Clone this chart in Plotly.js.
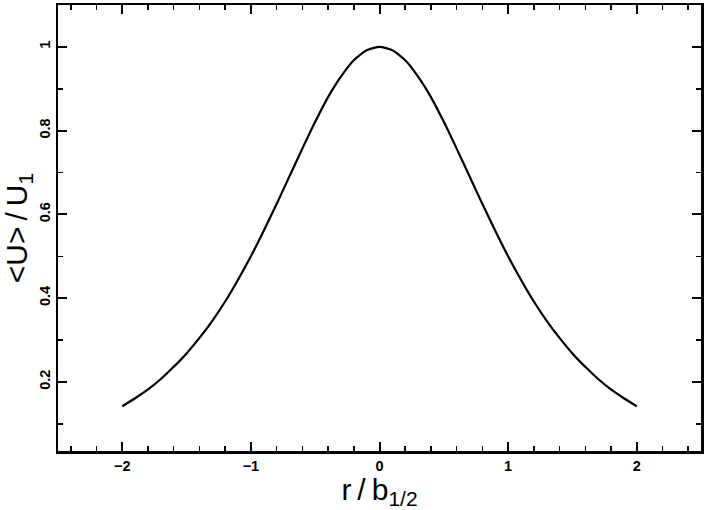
<!DOCTYPE html>
<html>
<head>
<meta charset="utf-8">
<script src="https://cdn.plot.ly/plotly-3.0.1.min.js"></script>
<style>
  html, body { margin: 0; padding: 0; background: #fff; }
  #chartDiv { width: 704px; height: 510px; }
</style>
</head>
<body>
<div id="chartDiv"></div>
<script>
// radial position r/b_1/2 and mean velocity <U>/U1
var rValues = [-2.0, -1.9, -1.8, -1.7, -1.6, -1.5, -1.4, -1.3, -1.2, -1.1,
	-1.0, -0.9, -0.8, -0.7, -0.6, -0.5, -0.4, -0.3, -0.2, -0.1,
	0.0, 0.1, 0.2, 0.3, 0.4, 0.5, 0.6, 0.7, 0.8, 0.9,
	1.0, 1.1, 1.2, 1.3, 1.4, 1.5, 1.6, 1.7, 1.8, 1.9, 2.0];
var uValues = [0.142, 0.161, 0.182, 0.207, 0.236, 0.268, 0.305, 0.346, 0.392, 0.444,
	0.500, 0.561, 0.625, 0.691, 0.757, 0.821, 0.880, 0.929, 0.968, 0.992,
	1.000, 0.992, 0.968, 0.929, 0.880, 0.821, 0.757, 0.691, 0.625, 0.561,
	0.500, 0.444, 0.392, 0.346, 0.305, 0.268, 0.236, 0.207, 0.182, 0.161, 0.142];
var xTicks = [-2, -1, 0, 1, 2];
var xTickLabels = ["\u22122", "\u22121", "0", "1", "2"];
var yTicks = [0.2, 0.4, 0.6, 0.8, 1];
var yTickLabels = ["0.2", "0.4", "0.6", "0.8", "1"];

var tickFont = {family: "Liberation Sans, Arial, sans-serif", size: 14.5, color: "#000", weight: "bold"};
var titleFont = {family: "Liberation Sans, Arial, sans-serif", size: 30, color: "#000"};

var profile = {
	x: rValues,
	y: uValues,
	type: "scatter",
	mode: "lines",
	line: {color: "#000", width: 2.2, shape: "spline", smoothing: 0.6},
	hoverinfo: "skip"
};

var layout = {
	width: 704,
	height: 510,
	paper_bgcolor: "#fff",
	plot_bgcolor: "#fff",
	showlegend: false,
	margin: {l: 58, r: 3, t: 5, b: 59},
	xaxis: {
		range: [-2.5, 2.5],
		showgrid: false,
		zeroline: false,
		showline: true,
		linecolor: "#000",
		linewidth: 2.5,
		mirror: "allticks",
		ticks: "inside",
		ticklen: 9,
		tickwidth: 2,
		tickcolor: "#000",
		tickvals: xTicks,
		ticktext: xTickLabels,
		tickfont: tickFont,
		minor: {dtick: 0.2, tick0: 0, ticks: "inside", ticklen: 5, tickwidth: 1.5, tickcolor: "#000"},
		title: {text: "r\u2009/\u2009b<sub>1/2</sub>", font: titleFont, standoff: 2},
		automargin: false
	},
	yaxis: {
		range: [0.035, 1.1],
		showgrid: false,
		zeroline: false,
		showline: true,
		linecolor: "#000",
		linewidth: 2.5,
		mirror: "allticks",
		ticks: "inside",
		ticklen: 9,
		tickwidth: 2,
		tickcolor: "#000",
		tickvals: yTicks,
		ticktext: yTickLabels,
		tickangle: -90,
		tickfont: tickFont,
		minor: {dtick: 0.1, tick0: 0, ticks: "inside", ticklen: 5, tickwidth: 1.5, tickcolor: "#000"},
		title: {text: "&lt;U&gt;\u2009/\u2009U<sub>1</sub>", font: titleFont, standoff: 2},
		automargin: false
	}
};

Plotly.newPlot("chartDiv", [profile], layout, {staticPlot: true});
</script>
</body>
</html>
